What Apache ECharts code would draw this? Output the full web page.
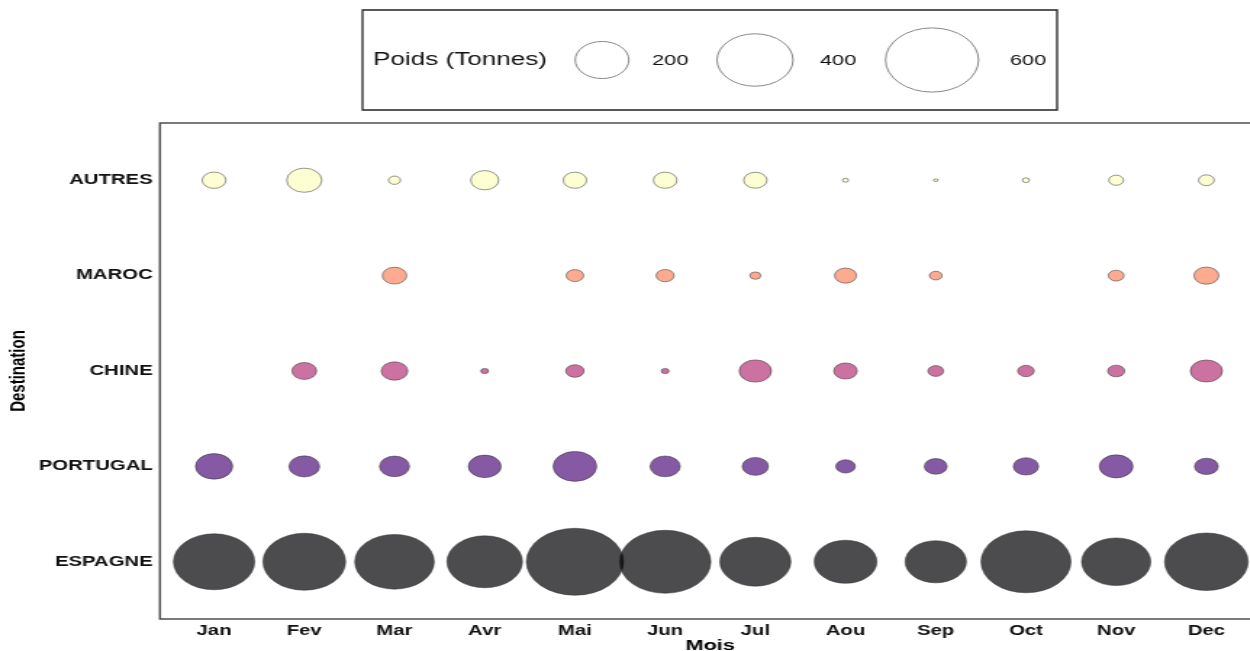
<!DOCTYPE html>
<html>
<head>
<meta charset="utf-8">
<script src="https://cdn.jsdelivr.net/npm/echarts@6/dist/echarts.min.js"></script>
<style>
html,body{margin:0;padding:0;background:#fff;overflow:hidden;}
#wrap{width:1250px;height:651px;overflow:hidden;position:relative;}
#chart{width:862px;height:651px;transform:scaleX(1.45);transform-origin:0 0;}
</style>
</head>
<body>
<div id="wrap"><div id="chart"></div></div>
<script>
// ---- data ----
const months = ['Jan','Fev','Mar','Avr','Mai','Jun','Jul','Aou','Sep','Oct','Nov','Dec'];
const destinations = ['ESPAGNE','PORTUGAL','CHINE','MAROC','AUTRES'];
const espagne  = [457, 473, 437, 394, 654, 578, 348, 271, 259, 560, 331, 483];
const portugal = [95, 65, 62, 74, 131, 63, 47, 26, 36, 44, 78, 39];
const chine    = [null, 42, 49, 4, 23, 4, 72, 38, 17, 19, 20, 71];
const maroc    = [null, null, 41, null, 21, 22, 8, 33, 11, null, 17, 43];
const autres   = [39, 85, 10, 54, 38, 38, 37, 2.4, 1.2, 3.4, 15, 17];
const legendValues = [200, 400, 600];
const seriesValues = [espagne, portugal, chine, maroc, autres];
const colors = ['#000004', '#51127C', '#B63679', '#FB8861', '#FCFDBF'];

// ---- rendering ----
const K = 2.62;
const sizeOf = v => K * Math.sqrt(v);
const FONT = '"Liberation Sans", Arial, sans-serif';

const chart = echarts.init(document.getElementById('chart'), null, {renderer: 'canvas'});

const series = destinations.map((name, r) => ({
  name: name,
  type: 'scatter',
  data: seriesValues[r].map((v, i) => v == null ? null : [i + 1, r + 1, v]).filter(d => d),
  symbol: 'circle',
  symbolSize: d => sizeOf(d[2]),
  itemStyle: {
    color: colors[r],
    opacity: 0.7,
    borderColor: '#2b2b2b',
    borderWidth: 0.7
  },
  emphasis: {disabled: true},
  silent: true
}));

// legend graphics
const legendCx = [415.2, 520.7, 642.8];
const legendLabelX = [449.7, 565.5, 696.5];
const graphics = [
  {type: 'rect', shape: {x: 250, y: 10, width: 479, height: 100},
   style: {fill: '#fff', stroke: '#222', lineWidth: 1.3}, z: 10},
  {type: 'text', x: 257.2, y: 60, z: 11,
   style: {text: 'Poids (Tonnes)', font: '18px ' + FONT, fill: '#111', verticalAlign: 'middle', align: 'left'}}
];
legendValues.forEach((v, i) => {
  graphics.push({type: 'circle', shape: {cx: legendCx[i], cy: 60, r: sizeOf(v) / 2}, z: 11,
    style: {fill: '#fff', stroke: '#888', lineWidth: 1}});
  graphics.push({type: 'text', x: legendLabelX[i], y: 61, z: 11,
    style: {text: String(v), font: '15px ' + FONT, fill: '#111', verticalAlign: 'middle', align: 'left'}});
});

chart.setOption({
  animation: false,
  backgroundColor: '#fff',
  grid: {
    left: 110.3, top: 123, width: 759, height: 496,
    show: true, borderColor: '#4d4d4d', borderWidth: 1.5, backgroundColor: 'transparent',
    outerBoundsMode: 'none', containLabel: false
  },
  xAxis: {
    type: 'value', min: 0.4, max: 12.6,
    name: 'Mois', nameLocation: 'middle', nameGap: 19, nameMoveOverlap: false,
    nameTextStyle: {fontFamily: FONT, fontWeight: 'bold', fontSize: 15, color: '#000'},
    axisLine: {show: false}, axisTick: {show: false}, splitLine: {show: false},
    axisLabel: {
      customValues: months.map((m, i) => i + 1),
      formatter: v => months[Math.round(v) - 1],
      fontFamily: FONT, fontWeight: 'bold', fontSize: 14, color: '#111', margin: 5
    }
  },
  yAxis: {
    type: 'value', min: 0.4, max: 5.6,
    name: 'Destination', nameLocation: 'middle', nameGap: 90, nameRotate: 90, nameMoveOverlap: false,
    nameTextStyle: {fontFamily: FONT, fontWeight: 'bold', fontSize: 15, color: '#000'},
    axisLine: {show: false}, axisTick: {show: false}, splitLine: {show: false},
    axisLabel: {
      customValues: destinations.map((d, i) => i + 1),
      formatter: v => destinations[Math.round(v) - 1],
      fontFamily: FONT, fontWeight: 'bold', fontSize: 14, color: '#111', margin: 5
    }
  },
  graphic: graphics,
  series: series
});
</script>
</body>
</html>
